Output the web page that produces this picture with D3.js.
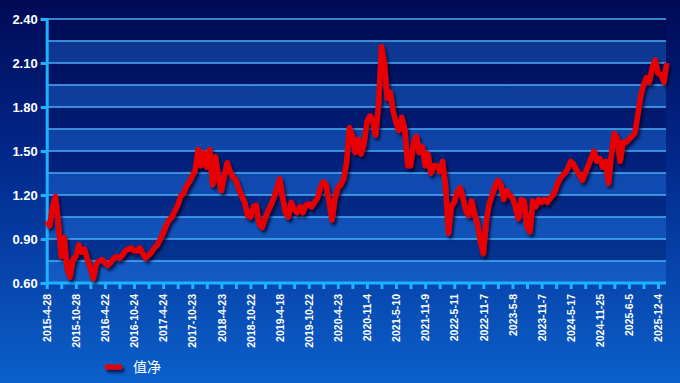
<!DOCTYPE html>
<html>
<head>
<meta charset="utf-8">
<script src="https://cdn.jsdelivr.net/npm/d3@7"></script>
<style>
html,body{margin:0;padding:0;background:#000c5c;}
svg{display:block;}
</style>
</head>
<body>
<svg id="chart" width="680" height="383"></svg>
<script>
// ---- data ----
const dateLabels = ["2015-4-28","2015-10-28","2016-4-22","2016-10-24","2017-4-24","2017-10-23","2018-4-23","2018-10-22","2019-4-18","2019-10-22","2020-4-23","2020-11-4","2021-5-10","2021-11-9","2022-5-11","2022-11-7","2023-5-8","2023-11-7","2024-5-17","2024-11-25","2025-6-5","2025-12-4"];
const pointsPerLabel = 10;
const navValues = [
1.02,0.99,1.12,1.19,1.00,0.78,0.91,0.70,0.64,0.76,
0.78,0.86,0.81,0.83,0.76,0.70,0.63,0.73,0.75,0.76,
0.74,0.72,0.74,0.77,0.78,0.77,0.79,0.82,0.83,0.84,
0.82,0.82,0.84,0.80,0.77,0.79,0.81,0.84,0.86,0.90,
0.94,0.99,1.03,1.05,1.09,1.13,1.19,1.21,1.26,1.29,
1.33,1.37,1.51,1.40,1.49,1.39,1.51,1.27,1.46,1.32,
1.23,1.33,1.42,1.36,1.32,1.30,1.24,1.19,1.15,1.06,
1.05,1.12,1.13,1.00,0.98,1.04,1.09,1.13,1.18,1.24,
1.31,1.19,1.08,1.05,1.15,1.10,1.08,1.12,1.08,1.13,
1.14,1.12,1.15,1.18,1.25,1.29,1.27,1.15,1.03,1.17,
1.25,1.27,1.31,1.42,1.66,1.60,1.49,1.58,1.48,1.55,
1.70,1.74,1.71,1.61,1.82,2.21,2.10,1.86,1.90,1.77,
1.69,1.64,1.73,1.65,1.40,1.40,1.55,1.60,1.49,1.53,
1.40,1.48,1.35,1.40,1.40,1.36,1.43,1.26,0.94,1.12,
1.15,1.22,1.25,1.18,1.09,1.06,1.16,1.07,1.00,0.88,
0.80,1.02,1.14,1.20,1.26,1.30,1.27,1.17,1.23,1.20,
1.18,1.12,1.04,1.17,1.16,0.98,0.95,1.16,1.12,1.17,
1.15,1.17,1.15,1.18,1.20,1.25,1.30,1.33,1.35,1.38,
1.43,1.41,1.37,1.34,1.30,1.35,1.40,1.45,1.50,1.43,
1.45,1.39,1.43,1.28,1.48,1.62,1.58,1.43,1.56,1.56,
1.58,1.60,1.62,1.74,1.87,1.95,2.00,1.97,2.07,2.12,
2.03,2.02,1.97,2.10
];
const yTicks = [0.60,0.90,1.20,1.50,1.80,2.10,2.40];
const yGrid = [0.60,0.75,0.90,1.05,1.20,1.35,1.50,1.65,1.80,1.95,2.10,2.25,2.40];
const seriesName = "值净";

(function(){
// ---- layout ----
const W = 680, H = 383;
const mL = 46.7, mR = 666, mT = 19, mB = 283;
const svg = d3.select("#chart");
const defs = svg.append("defs");

const bg = defs.append("linearGradient").attr("id","bg").attr("x1",0).attr("y1",0).attr("x2",0).attr("y2",1);
bg.append("stop").attr("offset","0%").attr("stop-color","#000a55");
bg.append("stop").attr("offset","40%").attr("stop-color","#02278a");
bg.append("stop").attr("offset","100%").attr("stop-color","#0b60ca");

const sh = defs.append("filter").attr("id","shadow").attr("filterUnits","userSpaceOnUse")
  .attr("x",0).attr("y",0).attr("width",W).attr("height",H);
sh.append("feDropShadow").attr("dx",2).attr("dy",3).attr("stdDeviation",1.6).attr("flood-color","#000020").attr("flood-opacity",0.75);

svg.append("rect").attr("width",W).attr("height",H).attr("fill","url(#bg)");

const x = d3.scaleLinear().domain([0, navValues.length-1]).range([mL, mL + (navValues.length-1)*((658-mL)/((dateLabels.length-1)*pointsPerLabel))]);
const y = d3.scaleLinear().domain([0.60, 2.40]).range([mB, mT]);

// bands
const bands = d3.range(yGrid.length-1).map(i => [yGrid[i], yGrid[i+1], i]);
svg.append("g").selectAll("rect").data(bands).join("rect")
  .attr("x", mL).attr("width", mR-mL)
  .attr("y", d => y(d[1])).attr("height", d => y(d[0]) - y(d[1]))
  .attr("fill", d => (d[2] % 2 === 0) ? "#2f8cf5" : "#000540")
  .attr("fill-opacity", d => (d[2] % 2 === 0) ? 0.30 : 0.22);

// grid lines
svg.append("g").selectAll("line").data(yGrid.slice(1)).join("line")
  .attr("x1", mL).attr("x2", mR)
  .attr("y1", d => y(d)).attr("y2", d => y(d))
  .attr("stroke", "#4aaef5").attr("stroke-width", 1.4);

// y axis
const yAxis = svg.append("g").attr("transform", `translate(${mL},0)`)
  .call(d3.axisLeft(y).tickValues(yTicks).tickFormat(d3.format(".2f")).tickSize(6).tickPadding(3));
yAxis.select(".domain").attr("stroke","#1eb2ff").attr("stroke-width",3);
yAxis.selectAll(".tick line").attr("stroke","#1eb2ff").attr("stroke-width",3);
yAxis.selectAll(".tick text").attr("fill","#fff").attr("font-family","Liberation Sans, Arial, sans-serif").attr("font-weight","bold").attr("font-size","13px");

// x axis
const tickIdx = d3.range(0, navValues.length, pointsPerLabel/2);
const xAxis = svg.append("g").attr("transform", `translate(0,${mB})`)
  .call(d3.axisBottom(x).tickValues(tickIdx).tickSize(6)
    .tickFormat(d => (d % pointsPerLabel === 0) ? (dateLabels[d/pointsPerLabel] || "") : ""));
xAxis.select(".domain").attr("stroke","#1eb2ff").attr("stroke-width",3).attr("d", `M${mL},0H${mR}`);
xAxis.selectAll(".tick line").attr("stroke","#1eb2ff").attr("stroke-width",3);
xAxis.selectAll(".tick text")
  .attr("fill","#fff").attr("font-family","Liberation Sans, Arial, sans-serif").attr("font-weight","bold").attr("font-size","10.5px")
  .attr("text-anchor","end").attr("dy","0.35em")
  .attr("transform","translate(0,11) rotate(-90)").attr("x",0).attr("y",0);

// line
const line = d3.line().x((d,i) => x(i)).y(d => y(d)).curve(d3.curveLinear);
svg.append("path").datum(navValues)
  .attr("d", line).attr("fill","none")
  .attr("stroke","#e80000").attr("stroke-width",5.5).attr("stroke-linejoin","round")
  .attr("filter","url(#shadow)");

// legend
const lg = svg.append("g");
lg.append("line").attr("x1",105).attr("x2",122).attr("y1",367).attr("y2",367)
  .attr("stroke","#e80000").attr("stroke-width",5).attr("filter","url(#shadow)");
lg.append("text").attr("x",133).attr("y",367).attr("dy","0.35em")
  .attr("fill","#fff").attr("font-family","Noto Sans CJK SC, sans-serif").attr("font-size","14px")
  .text(seriesName);
})();
</script>
</body>
</html>
